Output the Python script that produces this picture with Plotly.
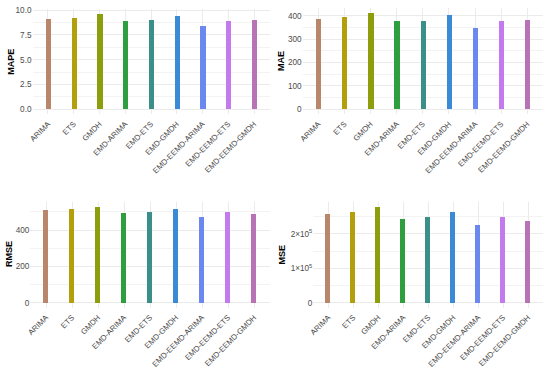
import plotly.graph_objects as go
from plotly.subplots import make_subplots

models = ["ARIMA", "ETS", "GMDH", "EMD-ARIMA", "EMD-ETS", "EMD-GMDH",
          "EMD-EEMD-ARIMA", "EMD-EEMD-ETS", "EMD-EEMD-GMDH"]
mape = [9.09, 9.22, 9.63, 8.89, 8.96, 9.43, 8.39, 8.89, 8.96]
mae = [387, 394, 413, 378, 380, 404, 350, 378, 381]
rmse = [510, 516, 530, 494, 501, 516, 475, 501, 488]
mse = [2.59e5, 2.66e5, 2.80e5, 2.44e5, 2.49e5, 2.66e5, 2.26e5, 2.50e5, 2.40e5]
colors = ["#B9866B", "#B39E0C", "#8C9E0C", "#2E9E3E", "#3A9088", "#3A8AD6",
          "#6A88EE", "#C27AEE", "#B872B6"]

fig = make_subplots(rows=2, cols=2)
panels = [(mape, "MAPE", 1, 1), (mae, "MAE", 1, 2), (rmse, "RMSE", 2, 1), (mse, "MSE", 2, 2)]
for vals, name, r, c in panels:
    fig.add_trace(go.Bar(x=models, y=vals, marker_color=colors, width=0.2,
                         marker_line_width=0, showlegend=False, name=name), row=r, col=c)

W, H = 550, 371
def dx(a, b):
    return [a / W, b / W]
def dy(top, bot):
    return [(H - bot) / H, (H - top) / H]

grid = "#EBEBEB"
tickfont = dict(family="Liberation Sans", size=7.8, color="#4D4D4D")
xcommon = dict(tickangle=-45, tickfont=tickfont, showgrid=True, gridcolor=grid, gridwidth=1,
               ticks="", showline=False, zeroline=False, range=[-0.6, 8.6], automargin=False,
               ticklabelstandoff=3)
ycommon = dict(tickfont=dict(tickfont, size=8.2), showgrid=True, gridcolor=grid, gridwidth=1, ticks="",
               showline=False, zeroline=False, automargin=False,
               minor=dict(showgrid=True, gridcolor="#F3F3F3", gridwidth=0.6))

fig.update_layout(
    xaxis=dict(xcommon, domain=dx(32.5, 269.5)),
    xaxis2=dict(xcommon, domain=dx(302.6, 543)),
    xaxis3=dict(xcommon, domain=dx(30.4, 269.6)),
    xaxis4=dict(xcommon, domain=dx(313.3, 543)),
    yaxis=dict(ycommon, domain=dy(9, 114), range=[-0.05 * max(mape), 1.05 * max(mape)],
               dtick=2.5, tick0=0, tickformat=".1f", minor=dict(ycommon["minor"], dtick=1.25)),
    yaxis2=dict(ycommon, domain=dy(8, 114), range=[-0.05 * max(mae), 1.05 * max(mae)],
                dtick=100, tick0=0, minor=dict(ycommon["minor"], dtick=50)),
    yaxis3=dict(ycommon, domain=dy(201.6, 307.5), range=[-0.05 * max(rmse), 1.05 * max(rmse)],
                dtick=200, tick0=0, minor=dict(ycommon["minor"], dtick=100)),
    yaxis4=dict(ycommon, domain=dy(201.6, 307.5), range=[-0.05 * max(mse), 1.05 * max(mse)],
                tickvals=[0, 1e5, 2e5], ticktext=["0", "1×10<sup>5</sup>", "2×10<sup>5</sup>"],
                minor=dict(ycommon["minor"], dtick=50000, tick0=0)),
    width=W, height=H, margin=dict(l=0, r=0, t=0, b=0, autoexpand=False),
    plot_bgcolor="white", paper_bgcolor="white", bargap=0,
    font=dict(family="Liberation Sans"),
)

titles = [("MAPE", 10.7, 62), ("MAE", 281, 61), ("RMSE", 8.5, 254.5), ("MSE", 281, 254.5)]
for t, x, y in titles:
    fig.add_annotation(text="<b>" + t + "</b>", x=x / W, y=(H - y) / H, xref="paper", yref="paper",
                       xanchor="center", yanchor="middle",
                       showarrow=False, textangle=-90,
                       font=dict(family="Liberation Sans", size=9, color="black"))

fig.write_html("out.html", config={"displayModeBar": False},
               post_script="document.body.style.margin='0px';document.body.style.overflow='hidden';")
